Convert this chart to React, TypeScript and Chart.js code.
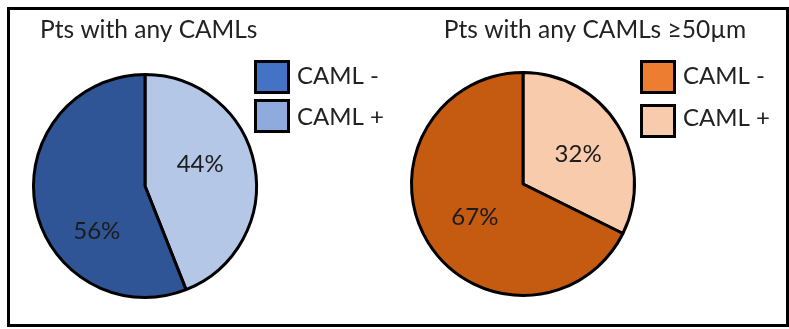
import React, { useEffect, useRef } from 'react';
import { Chart, registerables } from 'chart.js';

Chart.register(...registerables);

// Slices run clockwise from 12 o'clock: CAML + first, then CAML -
const sliceLabels = ['CAML +', 'CAML -'];
const legendLabels = ['CAML -', 'CAML +'];

const anyCamlsPct = [44, 56];
const largeCamlsPct = [32, 67];

const titleAny = 'Pts with any CAMLs';
const titleLarge = 'Pts with any CAMLs \u226550\u00b5m';

const FONT = 'Lato, "Open Sans", sans-serif';

type PanelStyle = {
  sliceColors: string[];
  legendColors: string[];
  padding: { left: number; right: number; top: number; bottom: number };
  title: { x: number; y: number; align: CanvasTextAlign };
  legend: { boxX: number; boxY: number[]; boxW: number; boxH: number; textX: number; textY: number[] };
  labelNudge: number[][];
};

const bluePanel: PanelStyle = {
  sliceColors: ['#B4C7E7', '#2F5597'],
  legendColors: ['#4472C4', '#8FAADC'],
  padding: { left: 32, right: 531, top: 73, bottom: 30 },
  title: { x: 40, y: 30, align: 'left' },
  legend: { boxX: 255.5, boxY: [61.5, 100.5], boxW: 33, boxH: 31, textX: 297, textY: [76, 117] },
  labelNudge: [[-5, -10], [12, 34]],
};

const orangePanel: PanelStyle = {
  sliceColors: ['#F8CBAD', '#C55A11'],
  legendColors: ['#ED7D31', '#F8CBAD'],
  padding: { left: 410, right: 153, top: 71, bottom: 32 },
  title: { x: 595, y: 30, align: 'center' },
  legend: { boxX: 641.5, boxY: [61.5, 105.5], boxW: 33, boxH: 31, textX: 683, textY: [76, 118] },
  labelNudge: [[3, 3], [4, 1]],
};

function makePanelPlugin(title: string, style: PanelStyle) {
  return {
    id: 'panelDecor',
    afterDatasetsDraw(chart: any) {
      const ctx: CanvasRenderingContext2D = chart.ctx;
      const meta = chart.getDatasetMeta(0);
      const values: number[] = chart.data.datasets[0].data;
      ctx.save();
      // percentage labels placed along each slice's mid angle
      ctx.font = `24px ${FONT}`;
      ctx.fillStyle = '#1c1c1c';
      ctx.textAlign = 'center';
      ctx.textBaseline = 'middle';
      meta.data.forEach((arc: any, i: number) => {
        const p = arc.getProps(['x', 'y', 'startAngle', 'endAngle', 'outerRadius'], true);
        const mid = (p.startAngle + p.endAngle) / 2;
        const r = p.outerRadius * 0.55;
        const nudge = style.labelNudge[i] || [0, 0];
        ctx.fillText(`${values[i]}%`, p.x + Math.cos(mid) * r + nudge[0], p.y + Math.sin(mid) * r + nudge[1]);
      });

      // panel title
      ctx.font = `24.5px ${FONT}`;
      ctx.fillStyle = '#222222';
      ctx.textAlign = style.title.align;
      ctx.fillText(title, style.title.x, style.title.y);

      // legend
      const lg = style.legend;
      legendLabels.forEach((label, i) => {
        ctx.fillStyle = style.legendColors[i];
        ctx.fillRect(lg.boxX, lg.boxY[i], lg.boxW, lg.boxH);
        ctx.lineWidth = 3;
        ctx.strokeStyle = '#000000';
        ctx.strokeRect(lg.boxX, lg.boxY[i], lg.boxW, lg.boxH);
        ctx.fillStyle = '#222222';
        ctx.textAlign = 'left';
        ctx.font = `24px ${FONT}`;
        ctx.fillText(label, lg.textX, lg.textY[i]);
      });
      ctx.restore();
    },
  };
}

function PiePanel({ values, title, style }: { values: number[]; title: string; style: PanelStyle }) {
  const ref = useRef<HTMLCanvasElement | null>(null);
  useEffect(() => {
    if (!ref.current) return;
    const chart = new Chart(ref.current, {
      type: 'pie',
      data: {
        labels: sliceLabels,
        datasets: [
          {
            data: values,
            backgroundColor: style.sliceColors,
            borderColor: '#000000',
            borderWidth: 3,
          },
        ],
      },
      options: {
        responsive: false,
        animation: false,
        events: [],
        layout: { padding: style.padding },
        plugins: {
          legend: { display: false },
          title: { display: false },
          tooltip: { enabled: false },
        },
      },
      plugins: [makePanelPlugin(title, style)],
    } as any);
    return () => chart.destroy();
  }, [values, title, style]);
  return (
    <canvas
      ref={ref}
      width={789}
      height={329}
      style={{ position: 'absolute', left: 0, top: 0, width: 789, height: 329 }}
    />
  );
}

export default function App() {
  return (
    <div style={{ position: 'fixed', left: 0, top: 0, width: 789, height: 329, background: '#ffffff' }}>
      <div
        style={{
          position: 'absolute',
          left: 7,
          top: 7,
          width: 782,
          height: 320,
          boxSizing: 'border-box',
          border: '3px solid #000000',
        }}
      />
      <PiePanel values={anyCamlsPct} title={titleAny} style={bluePanel} />
      <PiePanel values={largeCamlsPct} title={titleLarge} style={orangePanel} />
    </div>
  );
}
